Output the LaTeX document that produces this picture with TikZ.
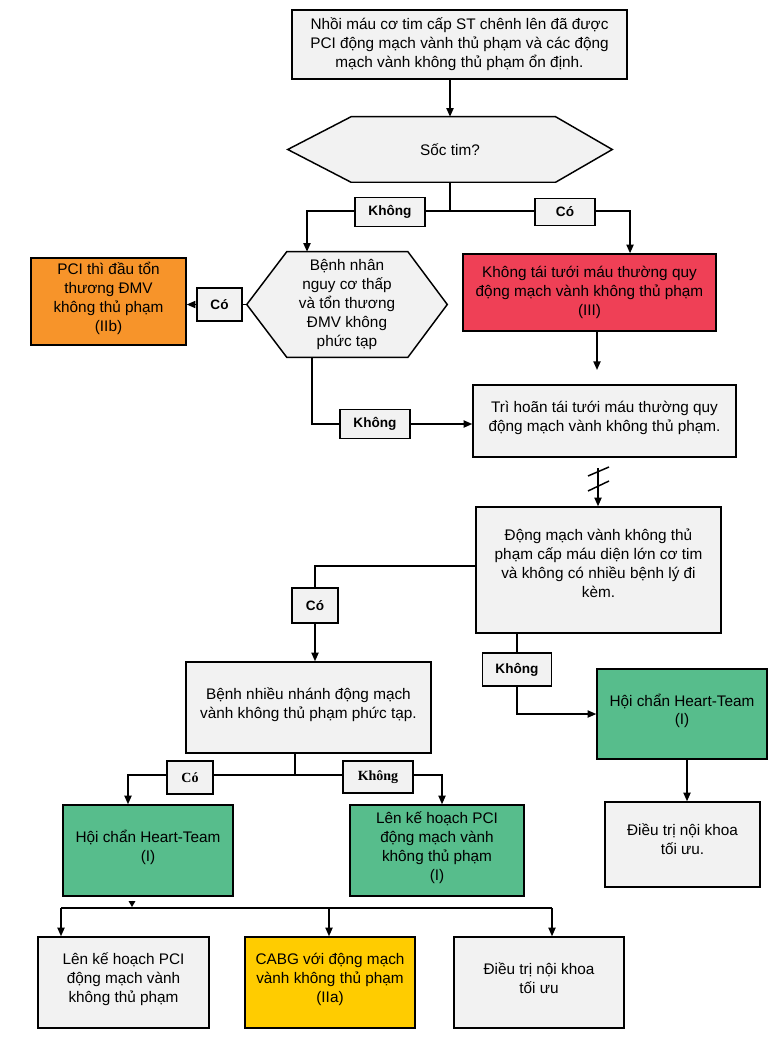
\documentclass[tikz,border=0pt]{standalone}
\usepackage{fontspec}
\setmainfont{Liberation Sans}
\newfontfamily\labserif{Liberation Serif}
\usetikzlibrary{arrows.meta,backgrounds}
\definecolor{boxgray}{HTML}{F2F2F2}
\definecolor{orangebox}{HTML}{F7942A}
\definecolor{redbox}{HTML}{EF4056}
\definecolor{greenbox}{HTML}{57BD8C}
\definecolor{yellowbox}{HTML}{FFCC00}
\begin{document}
\begin{tikzpicture}[x=0.75pt,y=-0.75pt,
  wh/.style 2 args={minimum width=#1*0.75pt, minimum height=#2*0.75pt},
  txt/.style={font=\fontsize{11.5}{14.2}\selectfont, align=center, inner sep=0pt},
  box/.style={txt, draw=black, line width=1.1pt, fill=boxgray, text depth=7pt},
  hexbox/.style={txt},
  hexline/.style={draw=black, fill=boxgray, line width=1.1pt, line join=miter},
  lab/.style={draw=black, line width=1pt, fill=boxgray, inner sep=0pt, font=\fontsize{10.2}{12}\selectfont\bfseries},
  labs/.style={draw=black, line width=1pt, fill=boxgray, inner sep=0pt, font=\fontsize{10.5}{12}\selectfont\labserif\bfseries},
  ln/.style={draw=black, line width=1.1pt},
  arr/.style={ln, -{Triangle[length=6.5pt,width=5.4pt]}}
]
\useasboundingbox (0,0) rectangle (777,1037);

% ---- nodes ----
\node[box, wh={335}{69}, line width=1.6pt, text depth=3pt] (top) at (459.5,44.5)
  {Nhồi máu cơ tim cấp ST chênh lên đã được\\PCI động mạch vành thủ phạm và các động\\mạch vành không thủ phạm ổn định.};
\node[hexbox, wh={324}{65}] (soc) at (450,149.5) {Sốc tim?};
\node[lab, wh={70}{29}] (l1) at (390,212) {Không};
\node[lab, wh={60}{27}] (l2) at (565,212) {Có};
\node[hexbox, wh={200}{105}] (bn) at (347,304.5) {Bệnh nhân\\nguy cơ thấp\\và tổn thương\\ĐMV không\\phức tạp};
\node[box, wh={155}{87}, fill=orangebox] (pci1) at (108.5,301.5) {PCI thì đầu tổn\\thương ĐMV\\không thủ phạm\\(IIb)};
\node[lab, wh={45}{33}] (l3) at (219.5,304.5) {Có};
\node[box, wh={253}{77}, fill=redbox, text depth=3pt] (red) at (589.5,292.5) {Không tái tưới máu thường quy\\động mạch vành không thủ phạm\\(III)};
\node[box, wh={263}{72}] (tri) at (604.5,421) {Trì hoãn tái tưới máu thường quy\\động mạch vành không thủ phạm.};
\node[lab, wh={70}{29}] (l4) at (375,424) {Không};
\node[box, wh={245}{126}, text depth=10pt] (dm) at (598.5,570) {Động mạch vành không thủ\\phạm cấp máu diện lớn cơ tim\\và không có nhiều bệnh lý đi\\kèm.};
\node[lab, wh={46}{35}] (l5) at (315,605.5) {Có};
\node[lab, wh={69}{33}] (l6) at (517,669.5) {Không};
\node[box, wh={170}{90}, fill=greenbox] (g1) at (682,714) {Hội chẩn Heart-Team\\(I)};
\node[box, wh={155}{85}, text depth=8pt] (dt1) at (682.5,844.5) {Điều trị nội khoa\\tối ưu.};
\node[box, wh={245}{91}] (bnn) at (308.5,707.5) {Bệnh nhiều nhánh động mạch\\vành không thủ phạm phức tạp.};
\node[labs, wh={46}{33}] (l7) at (190,777.5) {Có};
\node[labs, wh={70}{32}] (l8) at (378,777) {Không};
\node[box, wh={170}{91}, fill=greenbox] (g2) at (148,850.5) {Hội chẩn Heart-Team\\(I)};
\node[box, wh={174}{91}, fill=greenbox] (g3) at (437,850.5) {Lên kế hoạch PCI\\động mạch vành\\không thủ phạm\\(I)};
\node[box, wh={171}{91}] (b1) at (123.5,982.5) {Lên kế hoạch PCI\\động mạch vành\\không thủ phạm};
\node[box, wh={170}{91}, fill=yellowbox] (b2) at (330,982.5) {CABG với động mạch\\vành không thủ phạm\\(IIa)};
\node[box, wh={170}{91}] (b3) at (539,982.5) {Điều trị nội khoa\\tối ưu};

% ---- hexagon outlines (behind their texts) ----
\begin{scope}[on background layer]
\fill[white] (0,0) rectangle (777,1037);
\path[hexline] (soc.west) -- ([xshift=47.5pt]soc.north west) -- ([xshift=-42.5pt]soc.north east)
  -- (soc.east) -- ([xshift=-42.5pt]soc.south east) -- ([xshift=47.5pt]soc.south west) -- cycle;
\path[hexline] (bn.west) -- ([xshift=30pt]bn.north west) -- ([xshift=-29.5pt]bn.north east)
  -- (bn.east) -- ([xshift=-29.5pt]bn.south east) -- ([xshift=30pt]bn.south west) -- cycle;
\end{scope}

% ---- coordinates ----
\coordinate (j1) at (450,211);
\coordinate (rt) at (597,370);
\coordinate (bk) at (598,468);
\coordinate (j2) at (295,775);
\coordinate (bus) at (132,907);
\coordinate (bl) at (61,908);
\coordinate (bm) at (329,908);
\coordinate (br) at (552,908);

% ---- connectors ----
\draw[arr] (soc.north |- top.south) -- (soc.north);
\draw[ln] (soc.south) -- (j1);
\draw[ln] (j1) -- (j1 -| l1.east);
\draw[arr] (l1.west |- j1) -| ([xshift=-30pt]bn.north);
\draw[ln] (j1) -- (j1 -| l2.west);
\draw[arr] (l2.east |- j1) -| ([xshift=30.4pt]red.north);

\draw[ln] (bn.west) -- (l3.east);
\draw[arr] (l3.west) -- (l3.west -| pci1.east);

\draw[arr] (red.south -| rt) -- (rt);

\draw[ln] ([xshift=-26.25pt]bn.south) |- (l4.west);
\draw[arr] (l4.east) -- (l4.east -| tri.west);

\draw[arr] (bk) -- (bk |- dm.north);
\draw[ln] (588,476) -- (609,467);
\draw[ln] (588,491) -- (609,481);

\draw[ln] ([yshift=3pt]dm.west) -| (l5.north);
\draw[arr] (l5.south) -- (l5.south |- bnn.north);

\draw[ln] (dm.south -| l6) -- (l6.north);
\draw[arr] (l6.south) |- (g1.west);

\draw[arr] ([xshift=3.75pt]g1.south) -- ([xshift=3.75pt]g1.south |- dt1.north);

\draw[ln] (bnn.south -| j2) -- (j2);
\draw[ln] (j2) -- (j2 -| l7.east);
\draw[arr] (j2 -| l7.west) -| ([xshift=-15pt]g2.north);
\draw[ln] (j2) -- (j2 -| l8.west);
\draw[arr] (j2 -| l8.east) -| ([xshift=3.75pt]g3.north);

\draw[-{Triangle[length=4.5pt,width=5pt]}, line width=0.8pt] ([yshift=-3pt]g2.south -| bus) -- (bus);
\draw[ln] (bl) -- (br);
\draw[arr] (bl) -- (bl |- b1.north);
\draw[arr] (bm) -- (bm |- b2.north);
\draw[arr] (br) -- (br |- b3.north);
\end{tikzpicture}
\end{document}
